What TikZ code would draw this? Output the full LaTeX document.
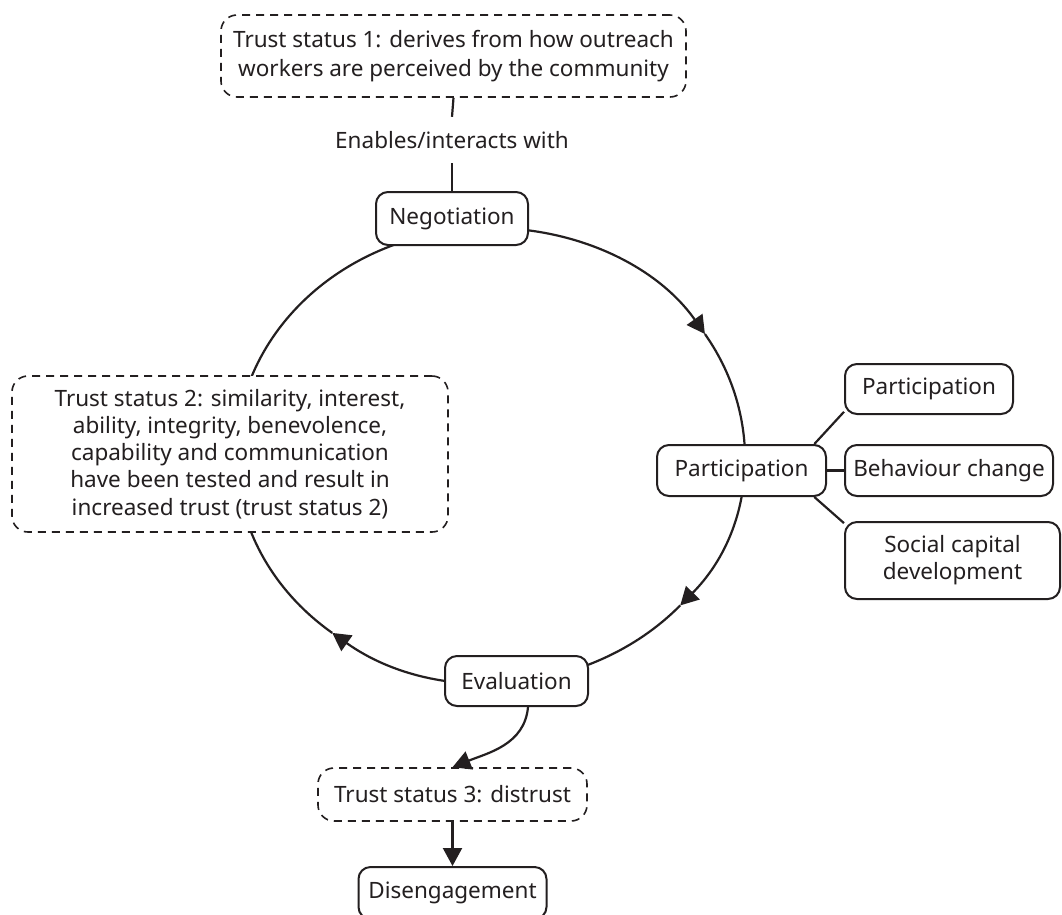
\documentclass[tikz,border=0pt]{standalone}
\usepackage{fontspec}
\setmainfont{Noto Sans}
\usetikzlibrary{arrows.meta}
\definecolor{ink}{HTML}{231F20}
\newcommand\dgfont{\fontsize{22.5}{27.2}\selectfont}
\begin{document}
\begin{tikzpicture}[x=1pt,y=1pt,
  box/.style={draw=ink, text=ink, line width=2pt, rounded corners=12pt, fill=white, inner sep=0pt, align=center, font=\dgfont},
  dbox/.style={box, dash pattern=on 8pt off 6pt, line width=1.6pt, rounded corners=16pt},
  link/.style={draw=ink, line width=2.2pt},
  tip/.style={-{Triangle[length=18pt,width=19pt]}},
]
\useasboundingbox (0,0) rectangle (1062,-914);
% the cycle (ellipse) drawn first, nodes are filled white on top
\coordinate (rc) at (490,-455);
\draw[link,tip] ([shift={(100:254 and 227)}]rc) arc[start angle=100, end angle=32.2, x radius=254, y radius=227];
\draw[link,tip] ([shift={(32.2:254 and 227)}]rc) arc[start angle=32.2, end angle=-41.5, x radius=254, y radius=227];
\draw[link,tip] ([shift={(-41.5:254 and 227)}]rc) arc[start angle=-41.5, end angle=-128.4, x radius=254, y radius=227];
\draw[link] ([shift={(-128.4:254 and 227)}]rc) arc[start angle=-128.4, end angle=-260, x radius=254, y radius=227];

\node[dbox, minimum width=465pt, minimum height=82pt, font=\fontsize{22.5}{29}\selectfont] (ts1) at (453.5,-56) {Trust status 1: derives from how outreach\\workers are perceived by the community};
\node[inner sep=0pt, minimum height=46pt, font=\dgfont, text=ink] (lbl) at (452,-140) {Enables/interacts with};
\node[box, minimum width=152pt, minimum height=53pt] (neg) at (452,-218.5) {Negotiation};
\node[box, minimum width=169pt, minimum height=51pt] (part) at (741.5,-470.5) {Participation};
\node[box, minimum width=168pt, minimum height=50pt] (p1) at (929,-389) {Participation};
\node[box, minimum width=208pt, minimum height=51pt] (bc) at (949,-470.5) {Behaviour change};
\node[box, minimum width=215pt, minimum height=77pt] (scd) at (952.5,-560.5) {Social capital\\development};
\node[box, minimum width=143pt, minimum height=50pt] (eval) at (516.5,-681) {Evaluation};
\node[dbox, minimum width=436pt, minimum height=156pt] (ts2) at (230,-454) {Trust status 2: similarity, interest,\\ability, integrity, benevolence,\\capability and communication\\have been tested and result in\\increased trust (trust status 2)};
\node[dbox, minimum width=269pt, minimum height=53pt] (ts3) at (452.5,-794.5) {Trust status 3: distrust};
\node[box, minimum width=188pt, minimum height=52pt] (dis) at (452.5,-893) {Disengagement};

\draw[link] (ts1.south) -- (lbl.north);
\draw[link] (lbl.south) -- (neg.north);
\draw[link] (part.20) -- (p1.195);
\draw[link] (part.east) -- (bc.west);
\draw[link] (part.-20) -- (scd.161);
\draw[link,tip] ([xshift=11.5pt]eval.south) to[out=-95,in=22] (ts3.north);
\draw[link,tip] (ts3.south) -- (dis.north);
\end{tikzpicture}
\end{document}
